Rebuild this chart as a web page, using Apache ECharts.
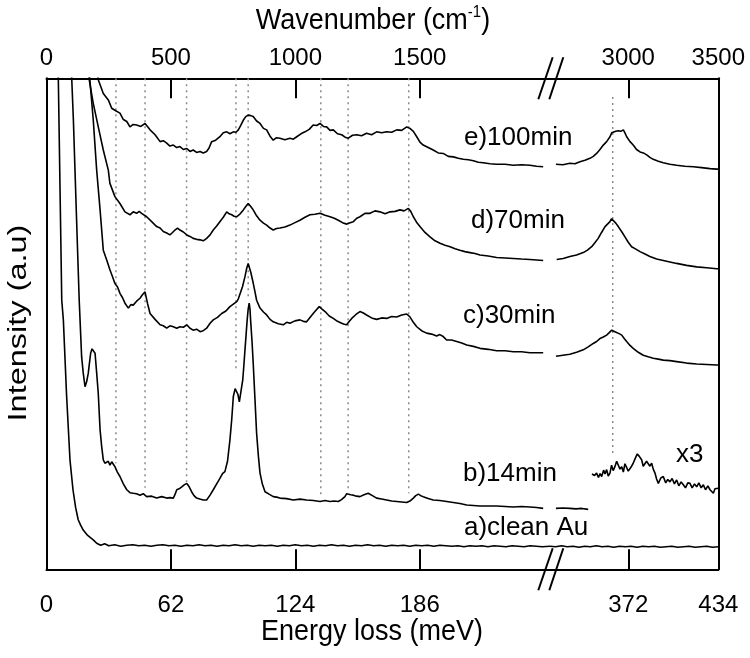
<!DOCTYPE html>
<html><head><meta charset="utf-8">
<script src="https://cdn.jsdelivr.net/npm/echarts@6/dist/echarts.min.js"></script>
<style>html,body{margin:0;padding:0;background:#fff}#c{width:750px;height:658px}</style>
</head><body><div id="c"></div>
<script>
// ---- tick labels ----
const bottomTicksLeft = [0, 62, 124, 186];      // meV
const bottomTicksRight = [372, 434];            // meV
const topTicksLeft = [0, 500, 1000, 1500];      // cm-1
const topTicksRight = [3000, 3500];             // cm-1
// axis ranges (meV) of the two segments of the broken axis
const leftRange = [0, 250.9];
const rightRange = [318.1, 434];
const CM_PER_MEV = 500 / 62;

// ---- reference (dotted) lines: position in meV, lower end in a.u. ----
const refLinesLeft = [34.6, 49.1, 69.8, 94.4, 100.5, 136.7, 150.3, 180.5];
const refLinesLeftEnd = [21.6, 16.6, 17.8, 40.6, 55.0, 14.7, 15.7, 15.5];
const refLinesRight = [361.3];
const refLinesRightTop = [96.2];
const refLinesRightEnd = [22.9];

// ---- spectra: [energy loss (meV), intensity (a.u.)] ----
const e_left = [[24.5,104],[25.8,99.7],[28.3,96.9],[30.8,95.6],[32.5,93.9],[34.5,93.4],[36.6,92.9],[38.3,91.6],[40.0,91.2],[41.6,90.1],[43.2,90.6],[44.9,90.5],[47.0,90.2],[49.1,90.8],[51.6,89.5],[54.1,88.5],[56.6,87.1],[58.2,87.3],[59.9,86.8],[61.5,86.2],[63.2,86.4],[64.9,85.9],[66.5,86.1],[68.2,85.5],[69.9,85.7],[71.5,85.1],[73.1,85.4],[74.8,84.9],[76.5,85.1],[78.1,84.8],[79.8,85.1],[81.0,85.8],[82.3,87.1],[84.3,87.4],[86.4,88.1],[88.1,88.9],[89.8,89.1],[91.4,88.7],[93.1,89.1],[94.4,89.0],[95.6,89.5],[96.8,90.4],[98.1,91.5],[99.3,92.2],[100.5,92.5],[101.8,92.4],[103.0,92.2],[104.7,91.3],[106.4,90.8],[108.1,89.8],[109.7,89.5],[111.4,88.2],[113.0,87.4],[114.6,87.9],[116.3,87.8],[118.8,87.5],[121.3,87.8],[123.0,87.6],[124.7,88.1],[126.8,88.7],[128.8,89.1],[130.9,89.6],[132.9,90.5],[134.6,90.4],[136.3,90.8],[138.0,90.2],[139.6,90.1],[141.3,89.4],[142.9,89.5],[145.0,88.7],[147.1,88.5],[148.8,88.0],[150.4,87.8],[152.5,88.4],[154.6,88.5],[157.0,88.3],[159.5,88.8],[162.0,88.5],[164.5,89.1],[167.0,88.9],[169.5,89.1],[172.0,89.0],[174.5,89.5],[177.0,89.4],[179.5,90.1],[181.1,89.8],[182.8,89.2],[184.5,88.1],[186.1,87.0],[187.7,86.4],[190.2,85.9],[192.7,85.4],[195.2,84.8],[197.7,84.7],[200.2,84.1],[202.7,84.0],[205.2,83.7],[207.7,83.5],[210.2,83.4],[212.7,83.2],[215.2,82.9],[217.6,82.8],[221.0,82.6],[224.3,82.5],[228.5,82.5],[232.6,82.3],[236.7,82.4],[240.9,82.3],[244.2,82.1],[247.5,82.0]];
const e_right = [[322.2,82.5],[327.0,82.4],[331.8,82.7],[335.3,82.6],[338.7,83.0],[342.2,83.3],[345.6,83.7],[347.9,84.1],[350.2,84.7],[352.5,85.5],[354.8,86.4],[357.1,87.1],[359.4,88.1],[360.6,88.9],[361.7,89.3],[363.4,89.2],[365.1,89.3],[366.8,89.2],[368.6,89.5],[369.7,88.9],[370.9,88.1],[373.2,87.1],[375.4,86.4],[377.7,85.5],[380.1,85.0],[382.4,84.8],[384.7,84.4],[386.9,83.9],[389.2,83.5],[392.7,83.1],[396.1,82.8],[400.7,82.5],[405.3,82.3],[411.0,82.1],[416.8,82.0],[422.5,81.8],[428.3,81.6],[432.9,81.5],[434,81.5]];

const d_left = [[20.5,104],[21.3,99.7],[23.3,94.9],[25.8,90.1],[28.3,85.4],[30.8,81.3],[31.6,78.6],[34.1,75.9],[36.6,74.5],[39.1,72.8],[41.6,72.2],[43.2,72.8],[44.9,72.5],[46.2,72.9],[47.4,72.5],[49.9,71.8],[52.4,70.8],[54.9,69.8],[56.6,69.5],[58.2,68.8],[59.9,68.5],[61.5,68.1],[62.8,68.6],[64.0,69.1],[65.3,69.5],[66.5,69.1],[68.2,68.7],[69.9,68.1],[71.5,67.8],[73.1,67.4],[74.8,67.2],[76.5,67.1],[78.1,66.9],[79.8,67.4],[81.5,68.1],[83.1,69.1],[84.8,69.9],[86.4,70.8],[88.1,71.7],[89.8,72.8],[91.0,72.4],[92.3,72.2],[93.5,71.9],[94.8,71.8],[96.5,72.4],[98.1,73.2],[99.3,73.9],[100.5,74.5],[101.8,73.9],[103.0,73.2],[104.7,72.0],[106.4,71.1],[108.1,70.5],[109.7,70.1],[111.4,69.5],[113.0,69.1],[114.6,69.4],[116.3,69.5],[118.8,69.7],[121.3,70.1],[123.8,70.6],[126.3,71.1],[128.8,71.7],[131.3,72.2],[133.8,72.3],[136.3,72.5],[138.8,72.1],[141.3,71.8],[143.4,71.5],[145.4,71.1],[147.5,70.6],[149.6,70.3],[151.3,70.6],[152.9,70.8],[154.6,71.5],[156.2,71.8],[158.7,72.5],[161.2,72.5],[163.7,73.0],[166.2,72.8],[168.7,72.4],[171.2,72.8],[173.7,72.9],[176.1,73.2],[178.2,73.0],[180.3,73.5],[181.5,72.9],[182.8,71.8],[184.4,70.7],[186.1,69.8],[188.6,68.6],[191.1,67.7],[193.6,66.9],[196.1,66.4],[198.6,66.0],[201.1,65.7],[203.6,65.3],[206.0,65.0],[208.5,64.7],[211.0,64.5],[213.5,64.3],[216.0,64.0],[220.1,63.8],[224.3,63.5],[228.5,63.4],[232.6,63.3],[236.7,63.2],[240.9,63.1],[244.2,63.0],[247.5,62.9]];
const d_right = [[322.7,63.1],[327.2,63.3],[331.8,63.7],[336.4,64.0],[341.0,64.5],[343.9,65.0],[346.8,65.7],[349.0,66.5],[351.3,67.4],[353.6,68.6],[356.0,69.8],[357.7,70.3],[359.4,70.8],[360.5,71.4],[361.7,71.1],[363.4,70.5],[365.1,69.8],[367.4,68.8],[369.7,67.7],[372.0,66.6],[374.3,65.7],[377.2,65.2],[380.1,64.7],[383.5,64.2],[386.9,63.7],[391.5,63.2],[396.1,62.9],[400.7,62.6],[405.3,62.3],[412.2,61.9],[419.1,61.6],[426.0,61.4],[432.9,61.2],[434,61.2]];

const c_left = [[20.8,104],[21.6,99.7],[23.3,91.5],[25.0,81.3],[26.7,73.2],[28.3,65.0],[30.0,63.0],[31.6,61.0],[32.9,59.6],[34.1,58.2],[35.4,57.5],[36.6,56.2],[37.9,55.3],[39.1,54.2],[40.8,53.2],[42.0,53.9],[43.2,53.8],[44.9,54.6],[46.6,55.2],[47.8,55.9],[49.1,56.5],[50.3,54.2],[51.6,52.1],[54.1,50.9],[56.6,49.8],[58.2,49.6],[59.9,49.1],[61.5,49.6],[63.2,49.4],[64.9,49.1],[66.5,49.4],[68.2,49.3],[69.9,49.8],[71.5,49.1],[73.1,48.7],[74.8,48.9],[76.5,48.4],[78.1,48.6],[79.8,49.1],[81.5,50.1],[83.1,50.8],[85.2,51.3],[87.3,52.1],[89.4,52.6],[91.4,53.5],[93.1,54.0],[94.8,54.5],[95.6,55.1],[96.4,55.5],[97.7,57.6],[98.9,59.6],[99.7,61.2],[100.5,62.3],[101.8,60.5],[103.0,58.3],[103.9,56.5],[104.7,54.8],[106.4,53.2],[108.1,52.4],[109.7,51.8],[111.4,50.9],[113.0,50.4],[115.5,50.0],[118.0,49.8],[119.7,50.3],[121.3,50.1],[123.8,50.6],[126.3,50.8],[128.0,50.5],[129.6,50.4],[131.3,51.3],[132.9,52.1],[134.4,52.8],[135.9,53.5],[137.3,53.0],[138.8,52.5],[140.9,51.6],[142.9,51.1],[145.0,50.5],[147.1,50.1],[148.4,49.9],[149.6,49.8],[150.9,50.5],[152.1,51.1],[154.2,51.9],[156.2,52.5],[157.9,52.2],[159.5,51.8],[162.0,51.2],[164.5,50.9],[167.0,51.2],[169.5,51.1],[172.0,51.5],[174.5,51.4],[177.0,51.8],[179.5,52.0],[181.1,51.4],[182.8,50.3],[184.5,49.4],[186.9,48.6],[189.4,48.1],[191.9,47.9],[194.4,47.5],[196.0,47.8],[197.7,47.4],[199.4,46.7],[201.9,46.7],[204.4,46.4],[206.9,46.1],[209.4,45.7],[212.7,45.4],[216.0,45.0],[220.1,44.8],[224.3,44.5],[228.5,44.5],[232.6,44.3],[236.7,44.3],[240.9,44.1],[247.5,44.1]];
const c_right = [[322.2,43.4],[327.0,43.6],[331.8,43.8],[336.4,44.2],[341.0,44.7],[344.4,45.3],[347.9,46.0],[350.2,46.4],[352.5,47.0],[354.8,47.3],[357.1,47.7],[358.9,48.2],[360.6,48.7],[361.7,49.1],[362.8,48.4],[364.0,48.1],[365.7,48.0],[367.5,47.7],[369.2,47.0],[370.9,46.4],[373.2,45.6],[375.4,45.0],[378.9,44.2],[382.3,43.6],[385.7,43.3],[389.2,43.0],[392.7,42.8],[396.1,42.6],[400.7,42.5],[405.3,42.3],[412.2,42.0],[419.1,41.8],[426.0,41.7],[432.9,41.6],[434,41.6]];

const b_left = [[12.3,104],[12.6,99.7],[13.4,91.5],[14.2,81.3],[15.0,71.1],[15.8,61.0],[16.3,54.8],[17.0,48.1],[17.5,43.3],[18.3,40.0],[19.2,37.2],[20.0,38.2],[20.8,39.9],[21.4,42.0],[22.0,44.0],[22.7,44.9],[23.3,45.0],[24.2,44.0],[25.0,40.0],[25.8,35.8],[26.7,28.4],[27.5,25.0],[28.3,22.3],[29.1,21.6],[30.0,21.2],[30.8,22.0],[31.6,21.2],[32.5,21.9],[33.3,21.4],[34.1,20.9],[35.3,19.8],[36.6,18.9],[38.3,17.4],[40.0,16.2],[41.6,15.6],[43.2,15.5],[44.9,15.4],[46.6,15.1],[48.2,15.4],[49.9,14.8],[52.4,14.9],[54.9,14.5],[57.4,14.8],[59.9,14.5],[61.5,14.6],[63.2,14.5],[64.1,15.3],[64.9,16.2],[66.1,16.4],[67.4,16.8],[68.6,17.2],[69.9,17.5],[71.1,16.8],[72.3,15.8],[73.5,15.0],[74.8,14.5],[76.4,14.3],[78.1,14.1],[79.8,14.1],[81.5,15.1],[83.1,16.2],[84.8,17.4],[86.4,18.5],[87.7,19.5],[88.9,19.9],[90.2,22.0],[91.4,26.3],[92.3,30.5],[93.1,35.2],[94.0,36.8],[94.8,37.2],[95.4,35.6],[96.1,34.1],[97.0,36.5],[97.8,38.6],[98.4,41.8],[98.9,44.7],[99.5,48.0],[100.0,50.8],[100.5,53.0],[101.0,54.2],[101.4,53.0],[101.7,50.8],[102.4,46.5],[103.0,42.0],[103.9,34.5],[104.7,27.7],[105.6,23.0],[106.4,19.6],[107.6,17.3],[108.9,15.8],[110.9,15.3],[113.0,14.8],[114.7,14.7],[116.3,14.5],[119.6,14.4],[123.0,14.1],[126.3,14.3],[129.6,14.1],[133.0,14.0],[136.3,13.8],[138.8,14.0],[141.3,13.8],[143.3,13.9],[145.4,13.8],[147.0,14.2],[148.7,14.8],[149.6,15.4],[150.4,15.6],[151.6,15.2],[152.9,15.1],[154.5,14.9],[156.2,14.8],[158.2,15.2],[160.3,15.5],[162.4,15.0],[164.5,14.5],[167.0,14.3],[169.5,14.1],[172.0,13.9],[174.5,13.8],[177.0,13.7],[179.5,13.6],[181.1,13.9],[182.8,14.5],[184.0,15.0],[185.3,15.3],[186.5,15.0],[187.7,14.8],[190.2,14.4],[192.7,14.1],[196.0,14.0],[199.4,13.8],[202.7,13.6],[206.0,13.4],[209.4,13.1],[212.7,13.0],[216.0,12.9],[220.1,12.9],[224.3,12.9],[228.5,12.8],[232.6,12.7],[236.7,12.8],[240.9,12.7],[244.2,12.6],[247.5,12.4]];
const b_right = [[322.2,12.4],[327.0,12.5],[331.8,12.4],[336.0,12.3],[340.0,12.4],[344.4,12.2]];
const b_right_x3 = [[347.0,19.4],[347.5,19.6],[348.8,19.1],[350.2,19.6],[351.5,18.7],[352.6,19.5],[353.7,18.9],[355.0,20.2],[356.0,19.4],[357.1,20.3],[358.2,19.0],[359.4,19.6],[360.5,21.2],[361.6,20.1],[362.8,20.9],[364.0,22.0],[365.1,21.6],[366.3,20.4],[367.5,20.9],[368.6,19.8],[369.7,21.5],[370.9,21.2],[372.0,20.0],[373.2,20.2],[374.3,21.0],[375.4,21.6],[376.8,22.6],[378.2,23.5],[379.6,23.0],[381.2,22.3],[382.3,21.0],[383.5,21.2],[384.6,22.0],[385.8,22.3],[386.9,21.0],[388.1,21.6],[389.2,20.4],[390.4,19.6],[391.5,18.4],[392.7,17.5],[394.4,18.6],[396.1,18.9],[397.8,17.6],[399.2,18.3],[400.7,17.8],[402.2,18.5],[403.8,17.4],[405.3,18.2],[406.8,17.0],[408.4,17.8],[409.9,17.2],[411.4,16.6],[413.0,17.6],[414.5,17.5],[416.0,16.6],[417.6,17.4],[419.1,16.8],[420.6,17.6],[422.2,16.6],[423.7,17.2],[425.2,16.2],[426.8,17.0],[428.3,16.2],[429.4,15.8],[430.6,15.5],[431.7,16.4],[432.9,16.8],[434,16.5]];

const a_left = [[5.6,104],[5.9,99.7],[7.6,54.8],[8.4,50.8],[10.0,35.5],[11.7,22.3],[13.2,16.2],[14.5,12.6],[15.8,10.1],[17.0,9.0],[18.3,8.0],[20.5,6.9],[23.3,6.0],[25.0,5.3],[27.0,4.9],[29.0,5.2],[31.0,4.8],[34.0,5.0],[37.0,4.7],[40.0,4.9],[43.0,5.0],[46.0,4.8],[49.0,4.9],[52.0,4.7],[55.0,4.9],[58.0,5.0],[61.0,4.8],[64.0,4.9],[67.0,4.7],[70.0,4.9],[73.0,4.8],[76.0,5.0],[79.0,4.8],[82.0,4.9],[85.0,4.7],[88.0,4.9],[91.0,4.8],[94.0,5.0],[97.0,4.8],[100.0,4.9],[103.0,4.7],[106.0,4.9],[109.0,4.8],[112.0,4.9],[115.0,4.7],[118.0,4.9],[121.0,4.8],[124.0,5.0],[127.0,4.8],[130.0,4.9],[133.0,4.7],[136.0,4.9],[139.0,4.8],[142.0,5.0],[145.0,4.8],[148.0,4.9],[151.0,4.7],[154.0,4.9],[157.0,4.8],[160.0,5.0],[163.0,4.8],[166.0,4.9],[169.0,4.7],[172.0,4.9],[175.0,4.8],[178.0,4.9],[181.0,4.7],[184.0,4.9],[187.0,4.8],[190.0,4.9],[193.0,4.7],[196.0,4.9],[199.0,4.8],[202.0,4.7],[205.0,4.8],[208.0,4.6],[211.0,4.8],[214.0,4.7],[217.0,4.8],[220.0,4.6],[223.0,4.8],[226.0,4.7],[229.0,4.6],[232.0,4.8],[235.0,4.7],[238.0,4.6],[241.0,4.8],[244.0,4.7],[247.0,4.6],[250.9,4.7]];
const a_right = [[318.1,4.7],[322,4.6],[326,4.8],[330,4.6],[334,4.7],[338,4.5],[342,4.7],[346,4.6],[350,4.8],[354,4.6],[358,4.7],[362,4.5],[366,4.7],[370,4.6],[374,4.7],[378,4.5],[382,4.7],[386,4.6],[390,4.7],[394,4.5],[398,4.6],[402,4.7],[406,4.5],[410,4.6],[414,4.7],[418,4.5],[422,4.6],[426,4.7],[430,4.5],[434,4.6]];

const curveLabels = ['e)100min', 'd)70min', 'c)30min', 'b)14min', 'a)clean Au'];
const scaleLabel = 'x3';

// ---- layout ----
const L = 46.5, B = 550, R = 718.3, T = 78.3, BOT = 569.3;
const FONT = '"Liberation Sans", Arial, sans-serif';

const chart = echarts.init(document.getElementById('c'), null, {renderer: 'canvas'});

function spec(data, grid) {
  return {type: 'line', data, xAxisIndex: grid === 0 ? 0 : 2, yAxisIndex: grid,
    symbol: 'none', silent: true, z: 3,
    lineStyle: {color: '#000', width: 1.6}};
}
function refLine(x, y0, y1, grid) {
  return {type: 'line', data: [[x, y0], [x, y1]], xAxisIndex: grid === 0 ? 0 : 2, yAxisIndex: grid,
    symbol: 'none', silent: true, z: 1,
    lineStyle: {color: '#8a8a8a', width: 1.5, type: [2, 4]}};
}

const axisLine = {show: true, lineStyle: {color: '#000', width: 2}};
const tick = {show: true, inside: true, length: 20, lineStyle: {color: '#000', width: 2}};
const lbl = {color: '#000', fontSize: 24, fontFamily: FONT, formatter: v => String(v)};

const series = [];
refLinesLeft.forEach((x, i) => series.push(refLine(x, 100, refLinesLeftEnd[i], 0)));
refLinesRight.forEach((x, i) => series.push(refLine(x, refLinesRightTop[i], refLinesRightEnd[i], 1)));
[e_left, d_left, c_left, b_left, a_left].forEach(d => series.push(spec(d, 0)));
[e_right, d_right, c_right, b_right, b_right_x3, a_right].forEach(d => series.push(spec(d, 1)));

const textItems = [
  {t: curveLabels[0], x: 464, y: 138},
  {t: curveLabels[1], x: 471, y: 221},
  {t: curveLabels[2], x: 463, y: 316},
  {t: curveLabels[3], x: 463, y: 473.5},
  {t: curveLabels[4], x: 464, y: 527.5},
  {t: scaleLabel, x: 676, y: 455}
].map(o => ({type: 'text', x: o.x, y: o.y, z: 10,
  style: {text: o.t, font: '26px ' + FONT, fill: '#000', verticalAlign: 'middle', align: 'left'}}));

function brk(yc) {
  return [
    {type: 'line', z: 20, shape: {x1: 538.3, y1: yc + 21, x2: 552.7, y2: yc - 21}, style: {stroke: '#000', lineWidth: 2}},
    {type: 'line', z: 20, shape: {x1: 549.3, y1: yc + 21, x2: 563.3, y2: yc - 21}, style: {stroke: '#000', lineWidth: 2}}
  ];
}

chart.setOption({
  animation: false,
  backgroundColor: '#fff',
  grid: [
    {left: L, top: T, width: B - L, height: BOT - T, containLabel: false, outerBoundsMode: 'none'},
    {left: B, top: T, width: R - B, height: BOT - T, containLabel: false, outerBoundsMode: 'none'}
  ],
  xAxis: [
    {gridIndex: 0, type: 'value', position: 'bottom', min: leftRange[0], max: leftRange[1],
     axisLine, axisTick: Object.assign({customValues: bottomTicksLeft}, tick),
     axisLabel: Object.assign({customValues: bottomTicksLeft, margin: 24}, lbl), splitLine: {show: false}},
    {gridIndex: 0, type: 'value', position: 'top', min: leftRange[0] * CM_PER_MEV, max: leftRange[1] * CM_PER_MEV,
     axisLine, axisTick: Object.assign({customValues: topTicksLeft}, tick),
     axisLabel: Object.assign({customValues: topTicksLeft, margin: 8}, lbl), splitLine: {show: false}},
    {gridIndex: 1, type: 'value', position: 'bottom', min: rightRange[0], max: rightRange[1],
     axisLine, axisTick: Object.assign({customValues: bottomTicksRight}, tick),
     axisLabel: Object.assign({customValues: bottomTicksRight, margin: 24}, lbl), splitLine: {show: false}},
    {gridIndex: 1, type: 'value', position: 'top', min: rightRange[0] * CM_PER_MEV, max: rightRange[1] * CM_PER_MEV,
     axisLine, axisTick: Object.assign({customValues: topTicksRight}, tick),
     axisLabel: Object.assign({customValues: topTicksRight, margin: 8}, lbl), splitLine: {show: false}}
  ],
  yAxis: [
    {gridIndex: 0, type: 'value', min: 0, max: 100, position: 'left', axisLine,
     axisTick: {show: false}, axisLabel: {show: false}, splitLine: {show: false}},
    {gridIndex: 1, type: 'value', min: 0, max: 100, position: 'right', axisLine,
     axisTick: {show: false}, axisLabel: {show: false}, splitLine: {show: false}}
  ],
  series,
  graphic: [
    {type: 'text', x: 373, y: 21, z: 10, scaleY: 1.12,
     style: {text: 'Wavenumber (cm{s|-1})', font: '27px ' + FONT, fill: '#000', align: 'center', verticalAlign: 'middle',
       rich: {s: {fontSize: 15, fontFamily: FONT, fill: '#000', verticalAlign: 'top', lineHeight: 30}}}},
    {type: 'text', x: 372, y: 632, z: 10, scaleY: 1.12,
     style: {text: 'Energy loss (meV)', font: '27px ' + FONT, fill: '#000', align: 'center', verticalAlign: 'middle'}},
    {type: 'text', x: 19, y: 323, z: 10, rotation: Math.PI / 2, scaleX: 1.25,
     style: {text: 'Intensity (a.u)', font: '26px ' + FONT, fill: '#000', align: 'center', verticalAlign: 'middle'}},
    ...brk(T), ...brk(BOT),
    ...textItems
  ]
});
</script></body></html>
